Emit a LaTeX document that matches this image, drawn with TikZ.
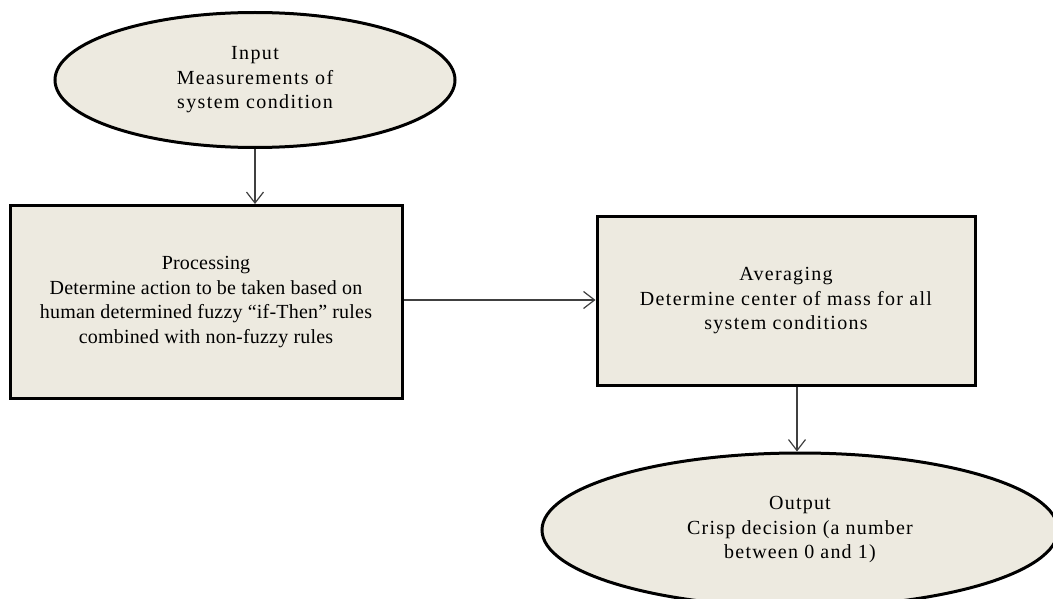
\documentclass[tikz,border=0pt]{standalone}
\usepackage{fontspec}
\setmainfont{Liberation Serif}
\usetikzlibrary{shapes.geometric,arrows.meta}
\definecolor{boxfill}{HTML}{EDEAE0}
\definecolor{arrowgray}{HTML}{404040}
\tikzset{
  x=1pt,y=-1pt,
  base/.style={draw=black,line width=3pt,fill=boxfill,align=center,inner sep=0pt,
    font=\fontsize{20}{24.5}\selectfont},
  oval/.style={base,ellipse},
  stepbox/.style={base,rectangle},
  spaced/.style={font=\fontsize{20}{24.5}\selectfont\addfontfeature{LetterSpace=#1}},
  conn/.style={draw=arrowgray,line width=1.3pt,-{Straight Barb[length=11pt,width=17pt,line width=1.2pt]}}
}
\begin{document}
\begin{tikzpicture}
\useasboundingbox (0,0) rectangle (1053,599);
\fill[white] (0,0) rectangle (1053,599);
\clip (0,0) rectangle (1053,599);
\node[oval,spaced=7,minimum width=400pt,minimum height=135pt] (in) at (255,80) {Input\\Measurements of\\system condition};
\node[stepbox,spaced=1,minimum width=392pt,minimum height=193pt] (proc) at (206,302) {Processing\\Determine action to be taken based on\\human determined fuzzy “if-Then” rules\\combined with non-fuzzy rules};
\node[stepbox,spaced=6.5,minimum width=378pt,minimum height=168pt] (avg) at (786,301) {Averaging\\Determine center of mass for all\\system conditions};
\node[oval,spaced=6,minimum width=516pt,minimum height=154pt] (out) at (800,530) {Output\\Crisp decision (a number\\between 0 and 1)};
\draw[conn] (in.south) -- (in.south |- proc.north);
\draw[conn] (proc.east |- 0,300) -- (avg.west |- 0,300);
\draw[conn] (797,0 |- avg.south) -- (797,0 |- out.north);
\end{tikzpicture}
\end{document}
